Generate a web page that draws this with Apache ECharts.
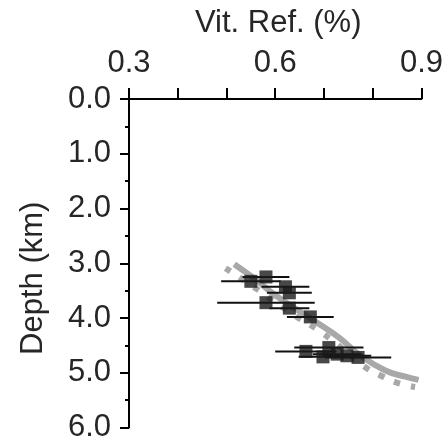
<!DOCTYPE html>
<html>
<head>
<meta charset="utf-8">
<script src="https://cdn.jsdelivr.net/npm/echarts@6/dist/echarts.min.js"></script>
<style>
  html, body { margin: 0; padding: 0; background: #fff; }
  #chart { width: 446px; height: 443px; }
</style>
</head>
<body>
<div id="chart"></div>
<script>
// Measured vitrinite reflectance samples
const vitRef  = [0.550, 0.581, 0.621, 0.629, 0.581, 0.629, 0.672, 0.663, 0.710, 0.698, 0.727, 0.747, 0.770];
const depthKm = [3.33, 3.25, 3.43, 3.54, 3.72, 3.82, 3.98, 4.61, 4.54, 4.71, 4.66, 4.69, 4.72];
const errRef  = [0.061, 0.048, 0.049, 0.046, 0.100, 0.041, 0.048, 0.063, 0.071, 0.050, 0.050, 0.050, 0.068];

// Modelled reflectance profiles
const modelAX = [0.516, 0.563, 0.601, 0.683, 0.731, 0.771, 0.826, 0.867, 0.894];
const modelAY = [3.02, 3.32, 3.59, 4.07, 4.36, 4.66, 4.96, 5.07, 5.13];
const modelBX = [0.498, 0.567, 0.629, 0.696, 0.785, 0.816, 0.849, 0.887];
const modelBY = [3.09, 3.50, 3.89, 4.27, 4.90, 5.05, 5.18, 5.26];

// Axis tick labels
const refTickLabels = ['0.3', '0.6', '0.9'];
const depthTickLabels = ['0.0', '1.0', '2.0', '3.0', '4.0', '5.0', '6.0'];

const FONT = 'Liberation Sans, Arial, sans-serif';
const TEXT = '#262626';

const pairs = (xs, ys) => xs.map((x, i) => [x, ys[i]]);
const samples = vitRef.map((x, i) => [x, depthKm[i], errRef[i]]);

const chart = echarts.init(document.getElementById('chart'));
chart.setOption({
  animation: false,
  grid: { left: 129, top: 99, width: 294, height: 336, containLabel: false },
  xAxis: {
    type: 'value', position: 'top',
    min: 0.3, max: 0.9, interval: 0.1,
    name: 'Vit. Ref. (%)', nameLocation: 'middle', nameGap: 60,
    nameTextStyle: { fontFamily: FONT, fontSize: 31, color: TEXT, padding: [0, 0, 0, 6] },
    axisLine: { onZero: false, lineStyle: { color: '#000', width: 2 } },
    axisTick: { length: 11, lineStyle: { color: '#000', width: 2 } },
    axisLabel: {
      margin: 20, fontFamily: FONT, fontSize: 31, color: TEXT,
      formatter: v => { const s = v.toFixed(1); return refTickLabels.includes(s) ? s : ''; }
    },
    splitLine: { show: false }
  },
  yAxis: {
    type: 'value', inverse: true,
    min: 0, max: 6, interval: 1,
    name: 'Depth (km)', nameLocation: 'middle', nameGap: 80, nameRotate: 90,
    nameTextStyle: { fontFamily: FONT, fontSize: 31, color: TEXT, padding: [0, 30, 0, 0] },
    axisLine: { onZero: false, lineStyle: { color: '#000', width: 2 } },
    axisTick: { length: 9, lineStyle: { color: '#000', width: 2 } },
    minorTick: { show: true, splitNumber: 2, length: 4, lineStyle: { color: '#000', width: 2 } },
    axisLabel: {
      margin: 18, fontFamily: FONT, fontSize: 31, color: TEXT,
      formatter: v => depthTickLabels[Math.round(v)] || ''
    },
    splitLine: { show: false }, minorSplitLine: { show: false }
  },
  series: [
    {
      type: 'line', data: pairs(modelAX, modelAY), smooth: true, symbol: 'none',
      lineStyle: { color: '#a8a8a8', width: 6 }, z: 1
    },
    {
      type: 'line', data: pairs(modelBX, modelBY), smooth: true, symbol: 'none',
      lineStyle: { color: '#a8a8a8', width: 6, type: [6, 11] }, z: 1
    },
    {
      // horizontal error bars
      type: 'custom', z: 2,
      data: samples,
      renderItem: (params, api) => {
        const x = api.value(0), y = api.value(1), e = api.value(2);
        const p1 = api.coord([x - e, y]);
        const p2 = api.coord([x + e, y]);
        return {
          type: 'line',
          shape: { x1: p1[0], y1: p1[1], x2: p2[0], y2: p2[1] },
          style: { stroke: '#111', lineWidth: 2 }
        };
      }
    },
    {
      type: 'scatter', z: 3,
      data: samples.map(s => [s[0], s[1]]),
      symbol: 'rect', symbolSize: 13,
      itemStyle: { color: '#1a1a1a' }
    }
  ]
});
</script>
</body>
</html>
